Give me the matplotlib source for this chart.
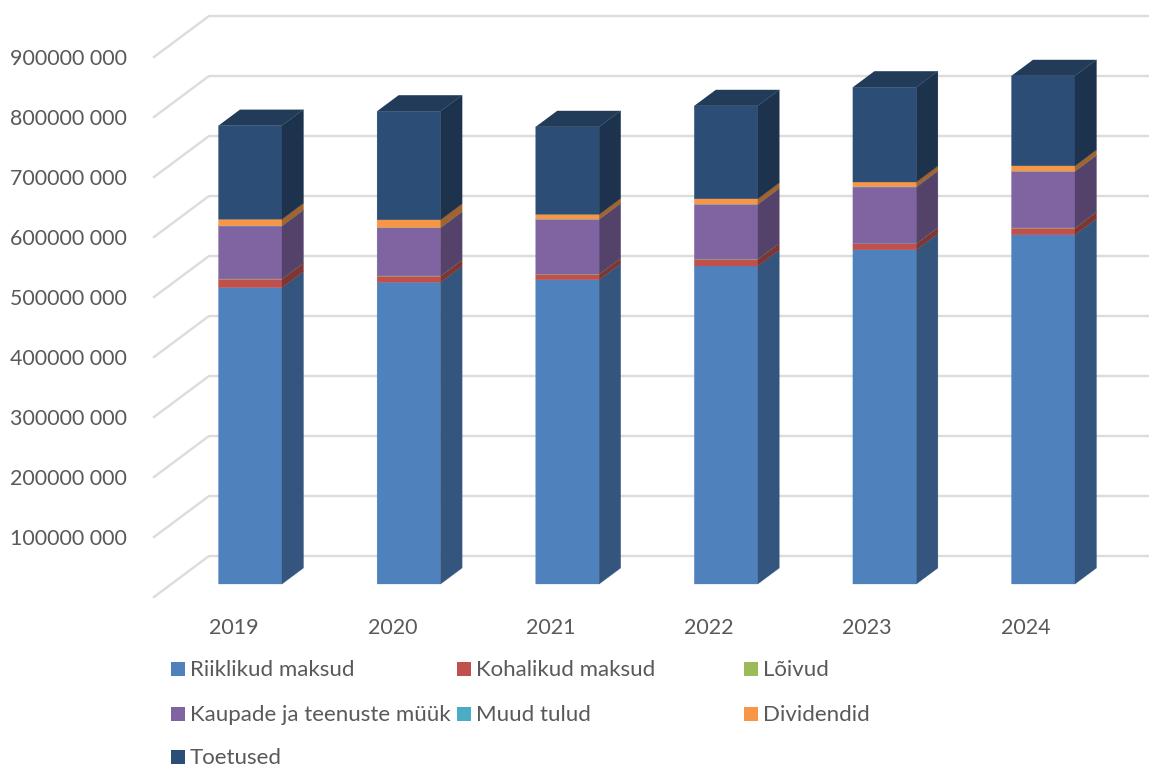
import numpy as np
import matplotlib
matplotlib.use("Agg")
import matplotlib.pyplot as plt
from matplotlib.colors import to_rgb
from matplotlib.patches import Rectangle

# Data
years = ["2019", "2020", "2021", "2022", "2023", "2024"]
riiklikud = [494000, 503000, 507000, 530000, 557000, 582000]
kohalikud = [14000, 10000, 9000, 11000, 10000, 11000]
loivud = [500, 500, 500, 500, 500, 500]
kaubad = [88000, 80000, 91000, 91000, 94000, 94000]
muud = [500, 500, 500, 500, 500, 500]
dividendid = [11000, 13000, 8000, 9000, 8000, 9000]
toetused = [156000, 181000, 146000, 155000, 158000, 150000]
y_ticks = [100000, 200000, 300000, 400000, 500000, 600000, 700000, 800000, 900000]

series = [
    ("Riiklikud maksud", riiklikud, "#4F81BD"),
    ("Kohalikud maksud", kohalikud, "#C0504D"),
    ("Lõivud", loivud, "#9BBB59"),
    ("Kaupade ja teenuste müük", kaubad, "#8064A2"),
    ("Muud tulud", muud, "#4BACC6"),
    ("Dividendid", dividendid, "#F79646"),
    ("Toetused", toetused, "#2C4D75"),
]

W, H = 1149, 767
PX_X = 158.6     # pixels per category
PX_Y = 60 / 100000  # pixels per unit
BAR_W = 63.5 / PX_X
TEXT = "#595959"
GRID = "#DCDCDC"

plt.rcParams["font.family"] = ["Lato", "DejaVu Sans"]


def shade(color, f):
    return tuple(c * f for c in to_rgb(color))


fig = plt.figure(figsize=(W / 100, H / 100), dpi=100)
ax = fig.add_axes([0, 0, 1, 1])
ax.set_xlim(-250.25 / PX_X, (W - 250.25) / PX_X)
ax.set_ylim(-(H - 584) / PX_Y, 584 / PX_Y)
ax.axis("off")

# depth of the bars and of the floor/wall, in data units
bar_dx, bar_dy = 21.5 / PX_X, 16 / PX_Y
wall_dx, wall_dy = 55 / PX_X, 41 / PX_Y
front_x = (154 - 250.25) / PX_X
front_y0 = -13 / PX_Y

# gridlines: slanted side wall plus back wall
for v in [0] + y_ticks:
    y = front_y0 + v
    ax.plot([front_x, front_x + wall_dx, ax.get_xlim()[1]],
            [y, y + wall_dy, y + wall_dy],
            color=GRID, lw=1.7, solid_joinstyle="miter", zorder=1)
    if v:
        ax.text((127 - 250.25) / PX_X, y - 2 / PX_Y, f"{v} 000", ha="right", va="center",
                fontsize=15.4, color=TEXT)

x = np.arange(len(years))
bottom = np.zeros(len(years))
for name, values, color in series:
    values = np.array(values)
    bars = ax.bar(x, values, BAR_W, bottom=bottom, color=color, edgecolor=color, linewidth=0.2, zorder=3)
    for bar in bars:
        bar.set_snap(False)
    for xi, b, v in zip(x, bottom, values):
        x1 = xi + BAR_W / 2
        side = shade(color, 0.66)
        ax.fill([x1, x1 + bar_dx, x1 + bar_dx, x1],
                [b, b + bar_dy, b + v + bar_dy, b + v],
                facecolor=side, edgecolor=side, linewidth=0.2, zorder=3)
    bottom = bottom + values

# top faces
for xi, t in zip(x, bottom):
    x0 = xi - BAR_W / 2
    ax.fill([x0, x0 + BAR_W, x0 + BAR_W + bar_dx, x0 + bar_dx],
            [t, t, t + bar_dy, t + bar_dy],
            color=shade(series[-1][2], 0.76), linewidth=0, zorder=3)

# year labels sit left of the bar centres
for xi, year in zip(x, years):
    ax.text(xi * 158.2 / PX_X - 16 / PX_X, -44 / PX_Y, year, ha="center", va="center",
            fontsize=15.4, color=TEXT)

# legend, laid out by hand because the columns are not evenly spaced
legend_x = [171, 457, 744]
legend_y = [669, 714, 757]
for i, (name, values, color) in enumerate(series):
    lx, ly = legend_x[i % 3], legend_y[i // 3]
    fig.add_artist(Rectangle((lx / W, 1 - (ly + 7) / H), 14 / W, 14 / H,
                             transform=fig.transFigure, color=color, linewidth=0))
    fig.text((lx + 19) / W, 1 - (ly + 1) / H, name, ha="left", va="center",
             fontsize=16, color=TEXT)

fig.savefig("out.png", dpi=100)
